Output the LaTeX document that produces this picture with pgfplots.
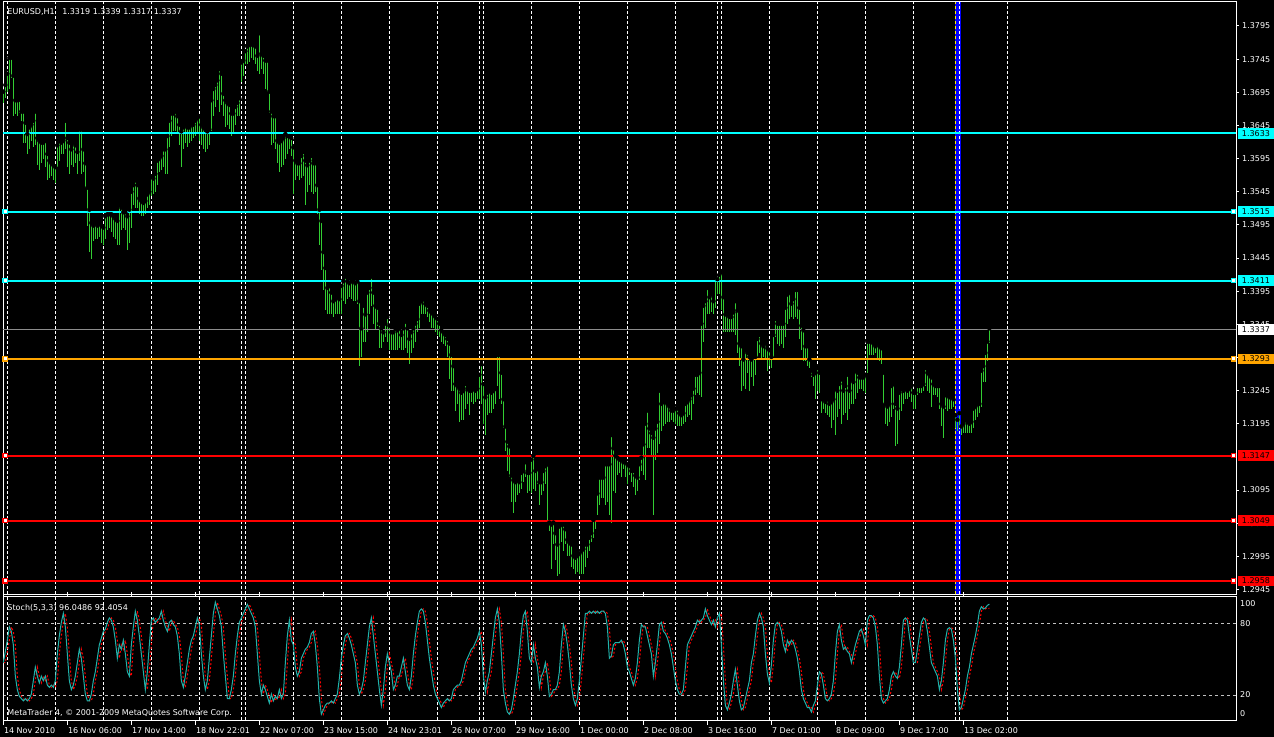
\documentclass[border=0pt]{standalone}
\usepackage{pgfplots}
\pgfplotsset{compat=1.18}
\usepackage{pgfplotstable}
\usepackage{fontspec}
\setmainfont{DejaVu Sans}
\definecolor{barG}{RGB}{50,205,50}
\definecolor{lcyan}{RGB}{0,255,255}
\definecolor{lorange}{RGB}{255,165,0}
\definecolor{lred}{RGB}{255,0,0}
\definecolor{lgray}{RGB}{140,140,140}
\definecolor{lblue}{RGB}{0,0,255}
\definecolor{stk}{RGB}{32,178,170}
\definecolor{silv}{RGB}{192,192,192}

\pgfplotstableread[row sep=\\]{
i h l\\
0 1.3696 1.3679\\ 1 1.3706 1.3686\\ 2 1.3723 1.3696\\ 3 1.3747 1.3700\\ 4 1.3747 1.3716\\
5 1.3720 1.3659\\ 6 1.3683 1.3663\\ 7 1.3683 1.3659\\ 8 1.3684 1.3663\\ 9 1.3666 1.3652\\
10 1.3666 1.3619\\ 11 1.3649 1.3619\\ 12 1.3632 1.3602\\ 13 1.3642 1.3609\\ 14 1.3646 1.3622\\
15 1.3652 1.3612\\ 16 1.3666 1.3615\\ 17 1.3626 1.3585\\ 18 1.3622 1.3578\\ 19 1.3619 1.3588\\
20 1.3619 1.3595\\ 21 1.3622 1.3582\\ 22 1.3602 1.3562\\ 23 1.3592 1.3565\\ 24 1.3588 1.3568\\
25 1.3585 1.3562\\ 26 1.3582 1.3558\\ 27 1.3615 1.3582\\ 28 1.3622 1.3592\\ 29 1.3619 1.3602\\
30 1.3622 1.3602\\ 31 1.3652 1.3609\\ 32 1.3626 1.3582\\ 33 1.3619 1.3572\\ 34 1.3609 1.3585\\
35 1.3619 1.3582\\ 36 1.3615 1.3588\\ 37 1.3605 1.3572\\ 38 1.3639 1.3592\\ 39 1.3639 1.3572\\
40 1.3609 1.3575\\ 41 1.3588 1.3551\\ 42 1.3551 1.3494\\ 43 1.3518 1.3454\\ 44 1.3498 1.3444\\
45 1.3494 1.3471\\ 46 1.3498 1.3474\\ 47 1.3494 1.3474\\ 48 1.3498 1.3477\\ 49 1.3494 1.3467\\
50 1.3491 1.3464\\ 51 1.3508 1.3474\\ 52 1.3511 1.3487\\ 53 1.3511 1.3491\\ 54 1.3511 1.3484\\
55 1.3508 1.3477\\ 56 1.3504 1.3474\\ 57 1.3501 1.3464\\ 58 1.3525 1.3464\\ 59 1.3521 1.3487\\
60 1.3514 1.3491\\ 61 1.3514 1.3487\\ 62 1.3508 1.3457\\ 63 1.3518 1.3467\\ 64 1.3545 1.3491\\
65 1.3555 1.3525\\ 66 1.3562 1.3521\\ 67 1.3555 1.3521\\ 68 1.3535 1.3511\\ 69 1.3531 1.3508\\
70 1.3528 1.3508\\ 71 1.3531 1.3511\\ 72 1.3541 1.3521\\ 73 1.3545 1.3525\\ 74 1.3568 1.3538\\
75 1.3565 1.3541\\ 76 1.3572 1.3545\\ 77 1.3592 1.3555\\ 78 1.3595 1.3575\\ 79 1.3599 1.3578\\
80 1.3609 1.3582\\ 81 1.3609 1.3572\\ 82 1.3629 1.3572\\ 83 1.3652 1.3612\\ 84 1.3663 1.3629\\
85 1.3663 1.3636\\ 86 1.3666 1.3636\\ 87 1.3659 1.3632\\ 88 1.3646 1.3615\\ 89 1.3636 1.3582\\
90 1.3642 1.3609\\ 91 1.3646 1.3619\\ 92 1.3642 1.3612\\ 93 1.3642 1.3619\\ 94 1.3646 1.3622\\
95 1.3646 1.3626\\ 96 1.3652 1.3629\\ 97 1.3656 1.3632\\ 98 1.3659 1.3622\\ 99 1.3646 1.3615\\
100 1.3642 1.3609\\ 101 1.3639 1.3605\\ 102 1.3636 1.3609\\ 103 1.3639 1.3615\\ 104 1.3683 1.3636\\
105 1.3700 1.3659\\ 106 1.3706 1.3673\\ 107 1.3713 1.3683\\ 108 1.3730 1.3666\\ 109 1.3723 1.3676\\
110 1.3693 1.3659\\ 111 1.3683 1.3642\\ 112 1.3679 1.3646\\ 113 1.3676 1.3639\\ 114 1.3663 1.3629\\
115 1.3663 1.3632\\ 116 1.3673 1.3646\\ 117 1.3679 1.3659\\ 118 1.3686 1.3659\\ 119 1.3740 1.3710\\
120 1.3743 1.3720\\ 121 1.3757 1.3737\\ 122 1.3764 1.3737\\ 123 1.3767 1.3740\\ 124 1.3767 1.3747\\
125 1.3767 1.3743\\ 126 1.3764 1.3737\\ 127 1.3750 1.3727\\ 128 1.3784 1.3723\\ 129 1.3753 1.3730\\
130 1.3750 1.3723\\ 131 1.3743 1.3700\\ 132 1.3743 1.3696\\ 133 1.3696 1.3663\\ 134 1.3666 1.3615\\
135 1.3659 1.3619\\ 136 1.3659 1.3609\\ 137 1.3622 1.3588\\ 138 1.3619 1.3575\\ 139 1.3622 1.3582\\
140 1.3626 1.3585\\ 141 1.3632 1.3595\\ 142 1.3629 1.3602\\ 143 1.3629 1.3609\\ 144 1.3626 1.3599\\
145 1.3612 1.3541\\ 146 1.3592 1.3562\\ 147 1.3588 1.3568\\ 148 1.3588 1.3562\\ 149 1.3599 1.3565\\
150 1.3605 1.3568\\ 151 1.3592 1.3525\\ 152 1.3585 1.3545\\ 153 1.3592 1.3555\\ 154 1.3599 1.3545\\
155 1.3588 1.3541\\ 156 1.3588 1.3545\\ 157 1.3555 1.3511\\ 158 1.3518 1.3464\\ 159 1.3501 1.3427\\
160 1.3454 1.3397\\ 161 1.3430 1.3366\\ 162 1.3400 1.3360\\ 163 1.3403 1.3360\\ 164 1.3393 1.3360\\
165 1.3380 1.3356\\ 166 1.3383 1.3360\\ 167 1.3386 1.3360\\ 168 1.3383 1.3360\\ 169 1.3403 1.3360\\
170 1.3410 1.3380\\ 171 1.3417 1.3376\\ 172 1.3410 1.3383\\ 173 1.3407 1.3386\\ 174 1.3410 1.3383\\
175 1.3410 1.3380\\ 176 1.3407 1.3380\\ 177 1.3410 1.3376\\ 178 1.3380 1.3282\\ 179 1.3339 1.3296\\
180 1.3373 1.3319\\ 181 1.3360 1.3319\\ 182 1.3393 1.3333\\ 183 1.3400 1.3360\\ 184 1.3417 1.3373\\
185 1.3393 1.3346\\ 186 1.3373 1.3336\\ 187 1.3370 1.3343\\ 188 1.3346 1.3309\\ 189 1.3339 1.3309\\
190 1.3333 1.3319\\ 191 1.3346 1.3326\\ 192 1.3356 1.3319\\ 193 1.3343 1.3306\\ 194 1.3333 1.3306\\
195 1.3333 1.3306\\ 196 1.3339 1.3306\\ 197 1.3336 1.3306\\ 198 1.3339 1.3309\\ 199 1.3329 1.3306\\
200 1.3339 1.3306\\ 201 1.3349 1.3309\\ 202 1.3339 1.3302\\ 203 1.3323 1.3285\\ 204 1.3333 1.3302\\
205 1.3339 1.3309\\ 206 1.3346 1.3319\\ 207 1.3353 1.3333\\ 208 1.3376 1.3339\\ 209 1.3380 1.3360\\
210 1.3383 1.3360\\ 211 1.3376 1.3360\\ 212 1.3373 1.3356\\ 213 1.3366 1.3349\\ 214 1.3363 1.3339\\
215 1.3360 1.3339\\ 216 1.3356 1.3333\\ 217 1.3353 1.3329\\ 218 1.3346 1.3326\\ 219 1.3336 1.3319\\
220 1.3333 1.3316\\ 221 1.3329 1.3312\\ 222 1.3323 1.3296\\ 223 1.3316 1.3262\\ 224 1.3299 1.3245\\
225 1.3282 1.3245\\ 226 1.3255 1.3215\\ 227 1.3252 1.3225\\ 228 1.3248 1.3198\\ 229 1.3242 1.3201\\
230 1.3245 1.3201\\ 231 1.3255 1.3218\\ 232 1.3248 1.3225\\ 233 1.3245 1.3208\\ 234 1.3245 1.3228\\
235 1.3248 1.3225\\ 236 1.3245 1.3228\\ 237 1.3248 1.3232\\ 238 1.3269 1.3232\\ 239 1.3285 1.3225\\
240 1.3255 1.3195\\ 241 1.3235 1.3178\\ 242 1.3242 1.3208\\ 243 1.3245 1.3211\\ 244 1.3242 1.3211\\
245 1.3245 1.3218\\ 246 1.3248 1.3225\\ 247 1.3299 1.3252\\ 248 1.3299 1.3232\\ 249 1.3272 1.3225\\
250 1.3232 1.3188\\ 251 1.3191 1.3154\\ 252 1.3168 1.3124\\ 253 1.3161 1.3114\\ 254 1.3117 1.3077\\
255 1.3110 1.3060\\ 256 1.3107 1.3077\\ 257 1.3110 1.3087\\ 258 1.3107 1.3090\\ 259 1.3121 1.3097\\
260 1.3124 1.3107\\ 261 1.3137 1.3114\\ 262 1.3121 1.3090\\ 263 1.3121 1.3094\\ 264 1.3141 1.3090\\
265 1.3147 1.3097\\ 266 1.3124 1.3094\\ 267 1.3127 1.3104\\ 268 1.3107 1.3073\\ 269 1.3107 1.3087\\
270 1.3124 1.3094\\ 271 1.3131 1.3104\\ 272 1.3134 1.3050\\ 273 1.3046 1.3033\\ 274 1.3043 1.2976\\
275 1.3046 1.3013\\ 276 1.3030 1.2989\\ 277 1.3013 1.2966\\ 278 1.3040 1.2969\\ 279 1.3043 1.3016\\
280 1.3043 1.3003\\ 281 1.3036 1.3013\\ 282 1.3020 1.2996\\ 283 1.3016 1.2996\\ 284 1.3013 1.2979\\
285 1.2996 1.2976\\ 286 1.2993 1.2969\\ 287 1.2996 1.2972\\ 288 1.2999 1.2969\\ 289 1.3003 1.2969\\
290 1.3006 1.2969\\ 291 1.3013 1.2979\\ 292 1.3013 1.2993\\ 293 1.3023 1.3003\\ 294 1.3030 1.3016\\
295 1.3050 1.3023\\ 296 1.3053 1.3036\\ 297 1.3090 1.3057\\ 298 1.3114 1.3073\\ 299 1.3114 1.3083\\
300 1.3114 1.3083\\ 301 1.3134 1.3073\\ 302 1.3134 1.3077\\ 303 1.3134 1.3057\\ 304 1.3178 1.3046\\
305 1.3158 1.3094\\ 306 1.3147 1.3090\\ 307 1.3144 1.3117\\ 308 1.3141 1.3121\\ 309 1.3141 1.3114\\
310 1.3137 1.3127\\ 311 1.3137 1.3114\\ 312 1.3134 1.3104\\ 313 1.3131 1.3117\\ 314 1.3124 1.3107\\
315 1.3124 1.3100\\ 316 1.3117 1.3087\\ 317 1.3114 1.3094\\ 318 1.3134 1.3110\\ 319 1.3144 1.3124\\
320 1.3164 1.3117\\ 321 1.3195 1.3110\\ 322 1.3215 1.3158\\ 323 1.3188 1.3158\\ 324 1.3181 1.3147\\
325 1.3174 1.3057\\ 326 1.3188 1.3141\\ 327 1.3198 1.3151\\ 328 1.3245 1.3164\\ 329 1.3225 1.3184\\
330 1.3228 1.3191\\ 331 1.3228 1.3195\\ 332 1.3225 1.3198\\ 333 1.3221 1.3198\\ 334 1.3215 1.3201\\
335 1.3215 1.3198\\ 336 1.3218 1.3195\\ 337 1.3218 1.3191\\ 338 1.3211 1.3191\\ 339 1.3208 1.3191\\
340 1.3211 1.3195\\ 341 1.3225 1.3198\\ 342 1.3228 1.3205\\ 343 1.3232 1.3208\\ 344 1.3238 1.3201\\
345 1.3248 1.3225\\ 346 1.3269 1.3238\\ 347 1.3269 1.3242\\ 348 1.3272 1.3238\\ 349 1.3346 1.3235\\
350 1.3373 1.3319\\ 351 1.3380 1.3339\\ 352 1.3400 1.3360\\ 353 1.3386 1.3360\\ 354 1.3390 1.3363\\
355 1.3380 1.3360\\ 356 1.3417 1.3370\\ 357 1.3413 1.3390\\ 358 1.3420 1.3390\\ 359 1.3424 1.3366\\
360 1.3386 1.3333\\ 361 1.3360 1.3333\\ 362 1.3360 1.3333\\ 363 1.3356 1.3333\\ 364 1.3356 1.3333\\
365 1.3363 1.3333\\ 366 1.3380 1.3329\\ 367 1.3366 1.3302\\ 368 1.3316 1.3282\\ 369 1.3312 1.3245\\
370 1.3292 1.3252\\ 371 1.3306 1.3248\\ 372 1.3302 1.3272\\ 373 1.3296 1.3245\\ 374 1.3292 1.3265\\
375 1.3296 1.3252\\ 376 1.3296 1.3269\\ 377 1.3323 1.3296\\ 378 1.3329 1.3302\\ 379 1.3316 1.3292\\
380 1.3312 1.3296\\ 381 1.3316 1.3292\\ 382 1.3309 1.3275\\ 383 1.3306 1.3282\\ 384 1.3296 1.3279\\
385 1.3329 1.3296\\ 386 1.3353 1.3326\\ 387 1.3346 1.3316\\ 388 1.3346 1.3312\\ 389 1.3346 1.3316\\
390 1.3346 1.3309\\ 391 1.3370 1.3326\\ 392 1.3390 1.3346\\ 393 1.3393 1.3353\\ 394 1.3376 1.3356\\
395 1.3383 1.3353\\ 396 1.3397 1.3356\\ 397 1.3397 1.3353\\ 398 1.3370 1.3323\\ 399 1.3343 1.3306\\
400 1.3336 1.3289\\ 401 1.3312 1.3289\\ 402 1.3312 1.3282\\ 403 1.3292 1.3279\\ 404 1.3275 1.3265\\
405 1.3269 1.3252\\ 406 1.3272 1.3232\\ 407 1.3279 1.3245\\ 408 1.3272 1.3242\\ 409 1.3232 1.3211\\
410 1.3232 1.3218\\ 411 1.3228 1.3211\\ 412 1.3232 1.3208\\ 413 1.3225 1.3205\\ 414 1.3228 1.3188\\
415 1.3232 1.3201\\ 416 1.3248 1.3178\\ 417 1.3245 1.3205\\ 418 1.3255 1.3218\\ 419 1.3262 1.3195\\
420 1.3245 1.3208\\ 421 1.3252 1.3211\\ 422 1.3269 1.3201\\ 423 1.3245 1.3218\\ 424 1.3262 1.3225\\
425 1.3258 1.3225\\ 426 1.3275 1.3232\\ 427 1.3272 1.3242\\ 428 1.3265 1.3248\\ 429 1.3265 1.3248\\
430 1.3265 1.3245\\ 431 1.3269 1.3242\\ 432 1.3319 1.3272\\ 433 1.3319 1.3299\\ 434 1.3319 1.3299\\
435 1.3316 1.3299\\ 436 1.3312 1.3302\\ 437 1.3316 1.3292\\ 438 1.3312 1.3289\\ 439 1.3309 1.3285\\
440 1.3272 1.3225\\ 441 1.3225 1.3195\\ 442 1.3221 1.3191\\ 443 1.3225 1.3198\\ 444 1.3252 1.3205\\
445 1.3255 1.3218\\ 446 1.3225 1.3161\\ 447 1.3218 1.3164\\ 448 1.3242 1.3201\\ 449 1.3248 1.3215\\
450 1.3245 1.3225\\ 451 1.3248 1.3232\\ 452 1.3245 1.3232\\ 453 1.3248 1.3235\\ 454 1.3252 1.3228\\
455 1.3242 1.3218\\ 456 1.3242 1.3218\\ 457 1.3252 1.3238\\ 458 1.3252 1.3242\\ 459 1.3252 1.3242\\
460 1.3255 1.3245\\ 461 1.3279 1.3252\\ 462 1.3272 1.3245\\ 463 1.3269 1.3242\\ 464 1.3265 1.3221\\
465 1.3255 1.3238\\ 466 1.3252 1.3238\\ 467 1.3252 1.3235\\ 468 1.3252 1.3218\\ 469 1.3225 1.3191\\
470 1.3221 1.3174\\ 471 1.3238 1.3218\\ 472 1.3238 1.3215\\ 473 1.3235 1.3218\\ 474 1.3235 1.3218\\
475 1.3232 1.3221\\ 476 1.3208 1.3188\\ 477 1.3201 1.3184\\ 478 1.3211 1.3188\\ 479 1.3191 1.3178\\
480 1.3195 1.3181\\ 481 1.3201 1.3181\\ 482 1.3198 1.3181\\ 483 1.3195 1.3181\\ 484 1.3198 1.3181\\
485 1.3218 1.3188\\ 486 1.3221 1.3201\\ 487 1.3225 1.3205\\ 488 1.3225 1.3211\\ 489 1.3275 1.3221\\
490 1.3282 1.3258\\ 491 1.3302 1.3258\\ 492 1.3319 1.3289\\ 493 1.3339 1.3317\\
}\bars

\pgfplotstableread[row sep=\\]{
i k d\\
0 47 47\\ 1 56.4 47\\ 2 65.8 56.4\\ 3 77 65.8\\ 4 73.3 77\\ 5 62 73.3\\ 6 35.8 62\\ 7 24.5 35.8\\
8 18.9 24.5\\ 9 17 18.9\\ 10 15.1 17\\ 11 17 15.1\\ 12 15.1 17\\ 13 17 15.1\\ 14 20.8 17\\ 15 32 20.8\\
16 43.3 32\\ 17 35.8 43.3\\ 18 30.1 35.8\\ 19 35.8 30.1\\ 20 32 35.8\\ 21 35.8 32\\ 22 28.3 35.8\\ 23 26.4 28.3\\
24 28.3 26.4\\ 25 26.4 28.3\\ 26 32 26.4\\ 27 54.5 32\\ 28 69.5 54.5\\ 29 80.8 69.5\\ 30 88.3 80.8\\ 31 77 88.3\\
32 54.5 77\\ 33 32 54.5\\ 34 24.5 32\\ 35 28.3 24.5\\ 36 35.8 28.3\\ 37 47 35.8\\ 38 58.3 47\\ 39 50.8 58.3\\
40 35.8 50.8\\ 41 20.8 35.8\\ 42 15.1 20.8\\ 43 15.1 15.1\\ 44 20.8 15.1\\ 45 32 20.8\\ 46 39.5 32\\ 47 50.8 39.5\\
48 62 50.8\\ 49 67.6 62\\ 50 73.3 67.6\\ 51 75.1 73.3\\ 52 80.8 75.1\\ 53 84.5 80.8\\ 54 82.6 84.5\\ 55 77 82.6\\
56 65.8 77\\ 57 50.8 65.8\\ 58 62 50.8\\ 59 58.3 62\\ 60 65.8 58.3\\ 61 54.5 65.8\\ 62 39.5 54.5\\ 63 35.8 39.5\\
64 62 35.8\\ 65 77 62\\ 66 90.1 77\\ 67 82.6 90.1\\ 68 69.5 82.6\\ 69 54.5 69.5\\ 70 39.5 54.5\\ 71 24.5 39.5\\
72 39.5 24.5\\ 73 62 39.5\\ 74 82.6 62\\ 75 84.5 82.6\\ 76 80.8 84.5\\ 77 82.6 80.8\\ 78 84.5 82.6\\ 79 90.1 84.5\\
80 82.6 90.1\\ 81 77 82.6\\ 82 73.3 77\\ 83 80.8 73.3\\ 84 82.6 80.8\\ 85 78.9 82.6\\ 86 77 78.9\\ 87 69.5 77\\
88 54.5 69.5\\ 89 32 54.5\\ 90 26.4 32\\ 91 35.8 26.4\\ 92 47 35.8\\ 93 58.3 47\\ 94 65.8 58.3\\ 95 69.5 65.8\\
96 77 69.5\\ 97 84.5 77\\ 98 78.9 84.5\\ 99 54.5 78.9\\ 100 35.8 54.5\\ 101 24.5 35.8\\ 102 32 24.5\\ 103 50.8 32\\
104 69.5 50.8\\ 105 88.3 69.5\\ 106 97.6 88.3\\ 107 92 97.6\\ 108 86.4 92\\ 109 77 86.4\\ 110 54.5 77\\ 111 35.8 54.5\\
112 17 35.8\\ 113 17 17\\ 114 24.5 17\\ 115 35.8 24.5\\ 116 54.5 35.8\\ 117 69.5 54.5\\ 118 80.8 69.5\\ 119 84.5 80.8\\
120 88.3 84.5\\ 121 92 88.3\\ 122 95.8 92\\ 123 92 95.8\\ 124 88.3 92\\ 125 84.5 88.3\\ 126 77 84.5\\ 127 54.5 77\\
128 32 54.5\\ 129 20.8 32\\ 130 28.3 20.8\\ 131 24.5 28.3\\ 132 18.9 24.5\\ 133 13.3 18.9\\ 134 20.8 13.3\\ 135 15.1 20.8\\
136 18.9 15.1\\ 137 17 18.9\\ 138 24.5 17\\ 139 17 24.5\\ 140 20.8 17\\ 141 47 20.8\\ 142 69.5 47\\ 143 82.6 69.5\\
144 65.8 82.6\\ 145 62 65.8\\ 146 43.3 62\\ 147 35.8 43.3\\ 148 39.5 35.8\\ 149 50.8 39.5\\ 150 54.5 50.8\\ 151 58.3 54.5\\
152 60.1 58.3\\ 153 63.9 60.1\\ 154 71.4 63.9\\ 155 73.3 71.4\\ 156 62 73.3\\ 157 43.3 62\\ 158 17 43.3\\ 159 3.9 17\\
160 7.6 3.9\\ 161 11.4 7.6\\ 162 13.3 11.4\\ 163 13.3 13.3\\ 164 15.1 13.3\\ 165 13.3 15.1\\ 166 17 13.3\\ 167 20.8 17\\
168 33.9 20.8\\ 169 50.8 33.9\\ 170 62 50.8\\ 171 69.5 62\\ 172 71.4 69.5\\ 173 67.6 71.4\\ 174 62 67.6\\ 175 54.5 62\\
176 47 54.5\\ 177 28.3 47\\ 178 20.8 28.3\\ 179 24.5 20.8\\ 180 32 24.5\\ 181 47 32\\ 182 62 47\\ 183 77 62\\
184 84.5 77\\ 185 69.5 84.5\\ 186 54.5 69.5\\ 187 39.5 54.5\\ 188 24.5 39.5\\ 189 11.4 24.5\\ 190 24.5 11.4\\ 191 43.3 24.5\\
192 54.5 43.3\\ 193 47 54.5\\ 194 39.5 47\\ 195 24.5 39.5\\ 196 28.3 24.5\\ 197 35.8 28.3\\ 198 35.8 35.8\\ 199 43.3 35.8\\
200 50.8 43.3\\ 201 39.5 50.8\\ 202 28.3 39.5\\ 203 24.5 28.3\\ 204 35.8 24.5\\ 205 54.5 35.8\\ 206 69.5 54.5\\ 207 80.8 69.5\\
208 90.1 80.8\\ 209 92 90.1\\ 210 90.1 92\\ 211 80.8 90.1\\ 212 65.8 80.8\\ 213 50.8 65.8\\ 214 39.5 50.8\\ 215 28.3 39.5\\
216 20.8 28.3\\ 217 17 20.8\\ 218 13.3 17\\ 219 9.5 13.3\\ 220 13.3 9.5\\ 221 15.1 13.3\\ 222 17 15.1\\ 223 15.1 17\\
224 17 15.1\\ 225 24.5 17\\ 226 26.4 24.5\\ 227 28.3 26.4\\ 228 28.3 28.3\\ 229 32 28.3\\ 230 39.5 32\\ 231 47 39.5\\
232 50.8 47\\ 233 54.5 50.8\\ 234 58.3 54.5\\ 235 60.1 58.3\\ 236 63.9 60.1\\ 237 67.6 63.9\\ 238 73.3 67.6\\ 239 62 73.3\\
240 35.8 62\\ 241 22.6 35.8\\ 242 32 22.6\\ 243 39.5 32\\ 244 54.5 39.5\\ 245 69.5 54.5\\ 246 84.5 69.5\\ 247 92 84.5\\
248 80.8 92\\ 249 54.5 80.8\\ 250 24.5 54.5\\ 251 13.3 24.5\\ 252 5.8 13.3\\ 253 3.9 5.8\\ 254 7.6 3.9\\ 255 17 7.6\\
256 28.3 17\\ 257 39.5 28.3\\ 258 54.5 39.5\\ 259 73.3 54.5\\ 260 86.4 73.3\\ 261 90.1 86.4\\ 262 73.3 90.1\\ 263 50.8 73.3\\
264 47 50.8\\ 265 62 47\\ 266 50.8 62\\ 267 43.3 50.8\\ 268 26.4 43.3\\ 269 35.8 26.4\\ 270 39.5 35.8\\ 271 47 39.5\\
272 35.8 47\\ 273 18.9 35.8\\ 274 20.8 18.9\\ 275 24.5 20.8\\ 276 24.5 24.5\\ 277 28.3 24.5\\ 278 39.5 28.3\\ 279 62 39.5\\
280 78.9 62\\ 281 73.3 78.9\\ 282 62 73.3\\ 283 47 62\\ 284 28.3 47\\ 285 17 28.3\\ 286 11.4 17\\ 287 17 11.4\\
288 32 17\\ 289 50.8 32\\ 290 69.5 50.8\\ 291 88.3 69.5\\ 292 88.3 88.3\\ 293 90.1 88.3\\ 294 88.3 90.1\\ 295 90.1 88.3\\
296 88.3 90.1\\ 297 90.1 88.3\\ 298 88.3 90.1\\ 299 90.1 88.3\\ 300 90.1 90.1\\ 301 88.3 90.1\\ 302 77 88.3\\ 303 50.8 77\\
304 52.6 50.8\\ 305 62 52.6\\ 306 63.9 62\\ 307 63.9 63.9\\ 308 63.9 63.9\\ 309 65.8 63.9\\ 310 62 65.8\\ 311 54.5 62\\
312 43.3 54.5\\ 313 39.5 43.3\\ 314 33.9 39.5\\ 315 28.3 33.9\\ 316 33.9 28.3\\ 317 47 33.9\\ 318 65.8 47\\ 319 78.9 65.8\\
320 77 78.9\\ 321 77 77\\ 322 69.5 77\\ 323 62 69.5\\ 324 54.5 62\\ 325 35.8 54.5\\ 326 47 35.8\\ 327 62 47\\
328 78.9 62\\ 329 80.8 78.9\\ 330 73.3 80.8\\ 331 71.4 73.3\\ 332 67.6 71.4\\ 333 62 67.6\\ 334 54.5 62\\ 335 43.3 54.5\\
336 32 43.3\\ 337 24.5 32\\ 338 20.8 24.5\\ 339 20.8 20.8\\ 340 24.5 20.8\\ 341 43.3 24.5\\ 342 62 43.3\\ 343 65.8 62\\
344 69.5 65.8\\ 345 73.3 69.5\\ 346 77 73.3\\ 347 82.6 77\\ 348 80.8 82.6\\ 349 82.6 80.8\\ 350 84.5 82.6\\ 351 92 84.5\\
352 86.4 92\\ 353 82.6 86.4\\ 354 78.9 82.6\\ 355 82.6 78.9\\ 356 77 82.6\\ 357 84.5 77\\ 358 88.3 84.5\\ 359 62 88.3\\
360 32 62\\ 361 11.4 32\\ 362 7.6 11.4\\ 363 13.3 7.6\\ 364 20.8 13.3\\ 365 32 20.8\\ 366 41.4 32\\ 367 28.3 41.4\\
368 15.1 28.3\\ 369 7.6 15.1\\ 370 9.5 7.6\\ 371 17 9.5\\ 372 24.5 17\\ 373 32 24.5\\ 374 47 32\\ 375 54.5 47\\
376 69.5 54.5\\ 377 82.6 69.5\\ 378 88.3 82.6\\ 379 84.5 88.3\\ 380 77 84.5\\ 381 54.5 77\\ 382 37.6 54.5\\ 383 30.1 37.6\\
384 45.1 30.1\\ 385 65.8 45.1\\ 386 78.9 65.8\\ 387 80.8 78.9\\ 388 78.9 80.8\\ 389 73.3 78.9\\ 390 62 73.3\\ 391 56.4 62\\
392 65.8 56.4\\ 393 62 65.8\\ 394 65.8 62\\ 395 63.9 65.8\\ 396 58.3 63.9\\ 397 50.8 58.3\\ 398 39.5 50.8\\ 399 24.5 39.5\\
400 17 24.5\\ 401 13.3 17\\ 402 9.5 13.3\\ 403 9.5 9.5\\ 404 5.8 9.5\\ 405 11.4 5.8\\ 406 15.1 11.4\\ 407 28.3 15.1\\
408 39.5 28.3\\ 409 37.6 39.5\\ 410 28.3 37.6\\ 411 17 28.3\\ 412 15.1 17\\ 413 17 15.1\\ 414 20.8 17\\ 415 32 20.8\\
416 54.5 32\\ 417 73.3 54.5\\ 418 78.9 73.3\\ 419 65.8 78.9\\ 420 58.3 65.8\\ 421 60.1 58.3\\ 422 56.4 60.1\\ 423 54.5 56.4\\
424 47 54.5\\ 425 54.5 47\\ 426 62 54.5\\ 427 67.6 62\\ 428 73.3 67.6\\ 429 75.1 73.3\\ 430 69.5 75.1\\ 431 62 69.5\\
432 82.6 62\\ 433 86.4 82.6\\ 434 86.4 86.4\\ 435 84.5 86.4\\ 436 77 84.5\\ 437 62 77\\ 438 35.8 62\\ 439 17 35.8\\
440 13.3 17\\ 441 15.1 13.3\\ 442 17 15.1\\ 443 24.5 17\\ 444 35.8 24.5\\ 445 39.5 35.8\\ 446 35.8 39.5\\ 447 33.9 35.8\\
448 43.3 33.9\\ 449 62 43.3\\ 450 82.6 62\\ 451 84.5 82.6\\ 452 82.6 84.5\\ 453 69.5 82.6\\ 454 58.3 69.5\\ 455 47 58.3\\
456 47 47\\ 457 58.3 47\\ 458 69.5 58.3\\ 459 80.8 69.5\\ 460 84.5 80.8\\ 461 82.6 84.5\\ 462 73.3 82.6\\ 463 60.1 73.3\\
464 47 60.1\\ 465 43.3 47\\ 466 39.5 43.3\\ 467 35.8 39.5\\ 468 24.5 35.8\\ 469 32 24.5\\ 470 47 32\\ 471 65.8 47\\
472 75.1 65.8\\ 473 76.3 75.1\\ 474 75.1 76.3\\ 475 65.8 75.1\\ 476 50.8 65.8\\ 477 24.5 50.8\\ 478 7.6 24.5\\ 479 9.5 7.6\\
480 17 9.5\\ 481 24.5 17\\ 482 35.8 24.5\\ 483 43.3 35.8\\ 484 54.5 43.3\\ 485 62 54.5\\ 486 69.5 62\\ 487 78.9 69.5\\
488 90.1 78.9\\ 489 93.9 90.1\\ 490 92 93.9\\ 491 92.8 92\\ 492 95 92.8\\ 493 96.05 92.4\\
}\stoch

\newcommand{\gridticks}{2,26,50,74,98,119,121,145,169,193,217,238,240,264,288,312,336,357,359,383,407,431,455,476,478,502}
\newcommand{\fs}{\fontsize{8bp}{9.6bp}\selectfont}

\begin{document}
\begin{tikzpicture}[font=\fs]
\fill[black] (0bp,0bp) rectangle (1274bp,737bp);

% ---------- main price panel ----------
\begin{axis}[
  at={(3bp,142.5bp)}, anchor=south west,
  scale only axis, width=1233bp, height=592.5bp,
  xmin=-0.165, xmax=616.3, ymin=1.29375, ymax=1.38312,
  clip=false,
  axis line style={white, line width=1bp},
  xtick/.expand once=\gridticks,
  xticklabels={},
  xtick pos=bottom,
  x tick style={draw=none},
  xmajorgrids,
  x grid style={white, line width=1bp, dash pattern=on 3bp off 2bp},
  ytick={1.2945,1.2995,1.3045,1.3095,1.3195,1.3245,1.3295,1.3345,1.3395,1.3445,1.3495,1.3545,1.3595,1.3645,1.3695,1.3745,1.3795},
  yticklabel pos=right, ytick pos=right,
  tick align=outside, major tick length=3bp,
  y tick style={white, line width=1bp},
  yticklabel={\pgfmathprintnumber[fixed,fixed zerofill,precision=4]{\tick}},
  y tick label style={anchor=west, inner sep=0pt, text=white, font=\fs, xshift=3bp},
  /pgf/number format/assume math mode=true,
]
% blue vertical line
\addplot[lblue, line width=6bp, forget plot] coordinates {(477.3,1.29375) (477.3,1.38312)};
\addplot[yellow, line width=1bp, dash pattern=on 3bp off 2bp, forget plot] coordinates {(476,1.29375) (476,1.38312)};
\addplot[white, line width=1bp, dash pattern=on 3bp off 2bp, forget plot] coordinates {(478,1.29375) (478,1.38312)};
% bars
\addplot[only marks, mark=none, forget plot,
  error bars/.cd, y dir=minus, y explicit, error mark=none,
  error bar style={draw=barG, solid, line width=1bp}]
  table[x=i, y=h, y error expr=\thisrow{h}-\thisrow{l}] {\bars};
% horizontal levels
\addplot[lcyan, line width=2bp, forget plot] coordinates {(-0.165,1.3633) (616.3,1.3633)};
\addplot[lcyan, line width=2bp, forget plot] coordinates {(-0.165,1.3515) (616.3,1.3515)};
\addplot[lcyan, line width=2bp, forget plot] coordinates {(-0.165,1.3411) (616.3,1.3411)};
\addplot[lgray, line width=1bp, forget plot] coordinates {(-0.165,1.3337) (616.3,1.3337)};
\addplot[lorange, line width=2bp, forget plot] coordinates {(-0.165,1.3293) (616.3,1.3293)};
\addplot[lred, line width=2bp, forget plot] coordinates {(-0.165,1.3147) (616.3,1.3147)};
\addplot[lred, line width=2bp, forget plot] coordinates {(-0.165,1.3049) (616.3,1.3049)};
\addplot[lred, line width=2bp, forget plot] coordinates {(-0.165,1.2958) (616.3,1.2958)};
% anchor squares
\addplot[only marks, mark=square*, mark size=2.2bp, mark options={fill=white, draw=lcyan, line width=1.3bp}, forget plot]
  coordinates {(0.9,1.3515) (615,1.3515) (0.9,1.3411) (615,1.3411)};
\addplot[only marks, mark=square*, mark size=2.2bp, mark options={fill=white, draw=lorange, line width=1.3bp}, forget plot]
  coordinates {(0.9,1.3293) (615,1.3293)};
\addplot[only marks, mark=square*, mark size=2.2bp, mark options={fill=white, draw=lred, line width=1.3bp}, forget plot]
  coordinates {(0.9,1.3147) (615,1.3147) (0.9,1.3049) (615,1.3049) (0.9,1.2958) (615,1.2958)};
\coordinate (pA) at (axis cs:616.3,1.3633);
\coordinate (pB) at (axis cs:616.3,1.3515);
\coordinate (pC) at (axis cs:616.3,1.3411);
\coordinate (pD) at (axis cs:616.3,1.3337);
\coordinate (pE) at (axis cs:616.3,1.3293);
\coordinate (pF) at (axis cs:616.3,1.3147);
\coordinate (pG) at (axis cs:616.3,1.3049);
\coordinate (pH) at (axis cs:616.3,1.2958);
\end{axis}

% ---------- stochastic panel ----------
\begin{axis}[
  at={(3bp,17bp)}, anchor=south west,
  scale only axis, width=1233bp, height=123bp,
  xmin=-0.165, xmax=616.3, ymin=-0.9, ymax=102,
  axis line style={white, line width=1bp},
  xtick/.expand once=\gridticks,
  xticklabels={},
  xmajorgrids,
  x grid style={white, line width=1bp, dash pattern=on 3bp off 2bp},
  ytick={20,80}, yticklabels={},
  ymajorgrids,
  y grid style={silv, line width=1bp, dash pattern=on 3bp off 3bp},
  major tick length=0pt,
  tick style={draw=none},
  extra x ticks={0,32,64,96,128,160,192,224,256,288,320,352,384,416,448,480},
  extra x tick labels={14 Nov 2010,16 Nov 06:00,17 Nov 14:00,18 Nov 22:01,22 Nov 07:00,23 Nov 15:00,24 Nov 23:01,26 Nov 07:00,29 Nov 16:00,1 Dec 00:00,2 Dec 08:00,3 Dec 16:00,7 Dec 01:00,8 Dec 09:00,9 Dec 17:00,13 Dec 02:00},
  extra x tick style={grid=none, tick align=outside, major tick length=5bp,
     tick style={draw=white, line width=1bp},
     x tick label style={anchor=north west, inner sep=0pt, text=white, font=\fs, yshift=-2bp, xshift=0.5bp}},
]
\addplot[lred, line width=1bp, dash pattern=on 2bp off 2bp, forget plot] table[x=i, y=d] {\stoch};
\addplot[stk, line width=1bp, forget plot] table[x=i, y=k] {\stoch};
\end{axis}

% right-edge price boxes
\foreach \c/\f/\t in {pA/lcyan/1.3633, pB/lcyan/1.3515, pC/lcyan/1.3411, pD/white/1.3337, pE/lorange/1.3293, pF/lred/1.3147, pG/lred/1.3049, pH/lred/1.2958}{
  \node[fill=\f, text=black, anchor=west, inner sep=0pt, minimum width=36.5bp, minimum height=10.5bp, xshift=1.5bp, font=\fs] at (\c) {\t};
}
% stoch level labels
\node[anchor=west, inner sep=0pt, text=white] at (1240bp,133bp) {100};
\node[anchor=west, inner sep=0pt, text=white] at (1240bp,113.7bp) {80};
\node[anchor=west, inner sep=0pt, text=white] at (1240bp,42bp) {20};
\node[anchor=west, inner sep=0pt, text=white] at (1240bp,23.7bp) {0};
% captions
\node[anchor=base west, inner sep=0pt, text=white] at (7.3bp,722.5bp) {EURUSD,H1\hspace{5bp} 1.3319 1.3339 1.3317 1.3337};
\node[anchor=base west, inner sep=0pt, text=white] at (7.3bp,126bp) {Stoch(5,3,3) 96.0486 92.4054};
\node[anchor=base west, inner sep=0pt, text=white] at (7.3bp,22bp) {MetaTrader 4, © 2001-2009 MetaQuotes Software Corp.};

\pgfresetboundingbox
\useasboundingbox (0bp,0bp) rectangle (1274bp,737bp);
\end{tikzpicture}
\end{document}
